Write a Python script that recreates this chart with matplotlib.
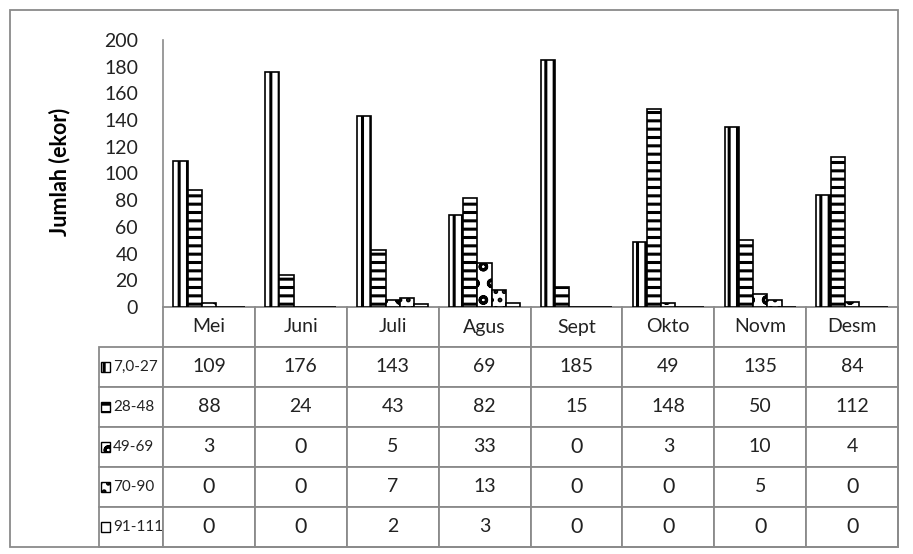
import numpy as np
import matplotlib.pyplot as plt
from matplotlib.table import Table
from matplotlib.patches import Rectangle

# data jumlah per bulan untuk tiap kelas ukuran
bulan = ['Mei', 'Juni', 'Juli', 'Agus', 'Sept', 'Okto', 'Novm', 'Desm']
kelas = ['7,0-27', '28-48', '49-69', '70-90', '91-111']
k1 = [109, 176, 143, 69, 185, 49, 135, 84]
k2 = [88, 24, 43, 82, 15, 148, 50, 112]
k3 = [3, 0, 5, 33, 0, 3, 10, 4]
k4 = [0, 0, 7, 13, 0, 0, 5, 0]
k5 = [0, 0, 2, 3, 0, 0, 0, 0]
y_ticks = list(range(0, 201, 20))

seri = [k1, k2, k3, k4, k5]
pola = ['||', '--', 'o', '..', '']

plt.rcParams['font.family'] = ['Lato', 'DejaVu Sans']
plt.rcParams['hatch.linewidth'] = 2.2
plt.rcParams['hatch.color'] = 'black'

W, H = 913, 554
fig = plt.figure(figsize=(W / 100, H / 100), dpi=100)


def fx(px):
    return px / W


def fy(py):
    return 1 - py / H


# area plot (piksel): x 163-898, y 40-307
x0, x1, y0, y1 = 163, 898, 40, 307
ax = fig.add_axes([fx(x0), fy(y1), fx(x1) - fx(x0), fy(y0) - fy(y1)])
aw, ah = x1 - x0, y1 - y0

x = np.arange(len(bulan))
lebar = 0.155
for i, (v, p) in enumerate(zip(seri, pola)):
    ax.bar(x + (i - 2) * lebar, v, lebar, facecolor='white', edgecolor='black',
           hatch=p, linewidth=1.2, label=kelas[i])

ax.set_xlim(-0.5, len(bulan) - 0.5)
ax.set_ylim(0, 200)
ax.set_yticks(y_ticks)
ax.set_xticks([])
ax.tick_params(axis='y', length=0, pad=18, labelsize=14, labelcolor='#222222')
for s in ['top', 'right', 'bottom']:
    ax.spines[s].set_visible(False)
ax.spines['left'].set_color('#8a8a8a')
ax.spines['left'].set_linewidth(1.2)

# tabel data di bawah grafik
row_h = 40 / ah
tb = Table(ax, bbox=[0, -6 * row_h, 1, 6 * row_h])
tb.auto_set_font_size(False)
col_w = 1 / len(bulan)
lab_w = (x0 - 99) / aw
garis = '#8a8a8a'
ukuran = {}
for j, b in enumerate(bulan):
    tb.add_cell(0, j, width=col_w, height=row_h, text=b, loc='center')
    ukuran[(0, j)] = 14
for i, (lab, v) in enumerate(zip(kelas, seri)):
    c = tb.add_cell(i + 1, -1, width=lab_w, height=row_h, text=lab, loc='left')
    c.PAD = 14 / (x0 - 99)
    ukuran[(i + 1, -1)] = 11
    for j, n in enumerate(v):
        tb.add_cell(i + 1, j, width=col_w, height=row_h, text=str(n), loc='center')
        # angka nol diketik dengan huruf lebih besar
        ukuran[(i + 1, j)] = 15.5 if n == 0 else 14
for key, c in tb.get_celld().items():
    c.set_edgecolor(garis)
    c.set_linewidth(1.3)
    c.get_text().set_color('#222222')
    c.get_text().set_fontsize(ukuran[key])
ax.add_table(tb)

# kunci pola di kolom label
for i, p in enumerate(pola):
    cy = -(40 * (i + 1) + 20) / ah
    ax.add_patch(Rectangle(((100.5 - x0) / aw, cy - 5 / ah), 9.5 / aw, 10 / ah,
                           transform=ax.transAxes, facecolor='white', edgecolor='black',
                           hatch=p, linewidth=1.0, clip_on=False, zorder=5))

fig.text(fx(60), fy(172), 'Jumlah (ekor)', rotation=90, fontsize=15.5, fontweight='bold',
         ha='center', va='center', color='black')

# bingkai luar grafik
fig.add_artist(Rectangle((fx(10), fy(547)), fx(898) - fx(10), fy(10) - fy(547),
                         transform=fig.transFigure, fill=False, edgecolor='#8a8a8a',
                         linewidth=1.3))

fig.savefig('out.png', dpi=100)
